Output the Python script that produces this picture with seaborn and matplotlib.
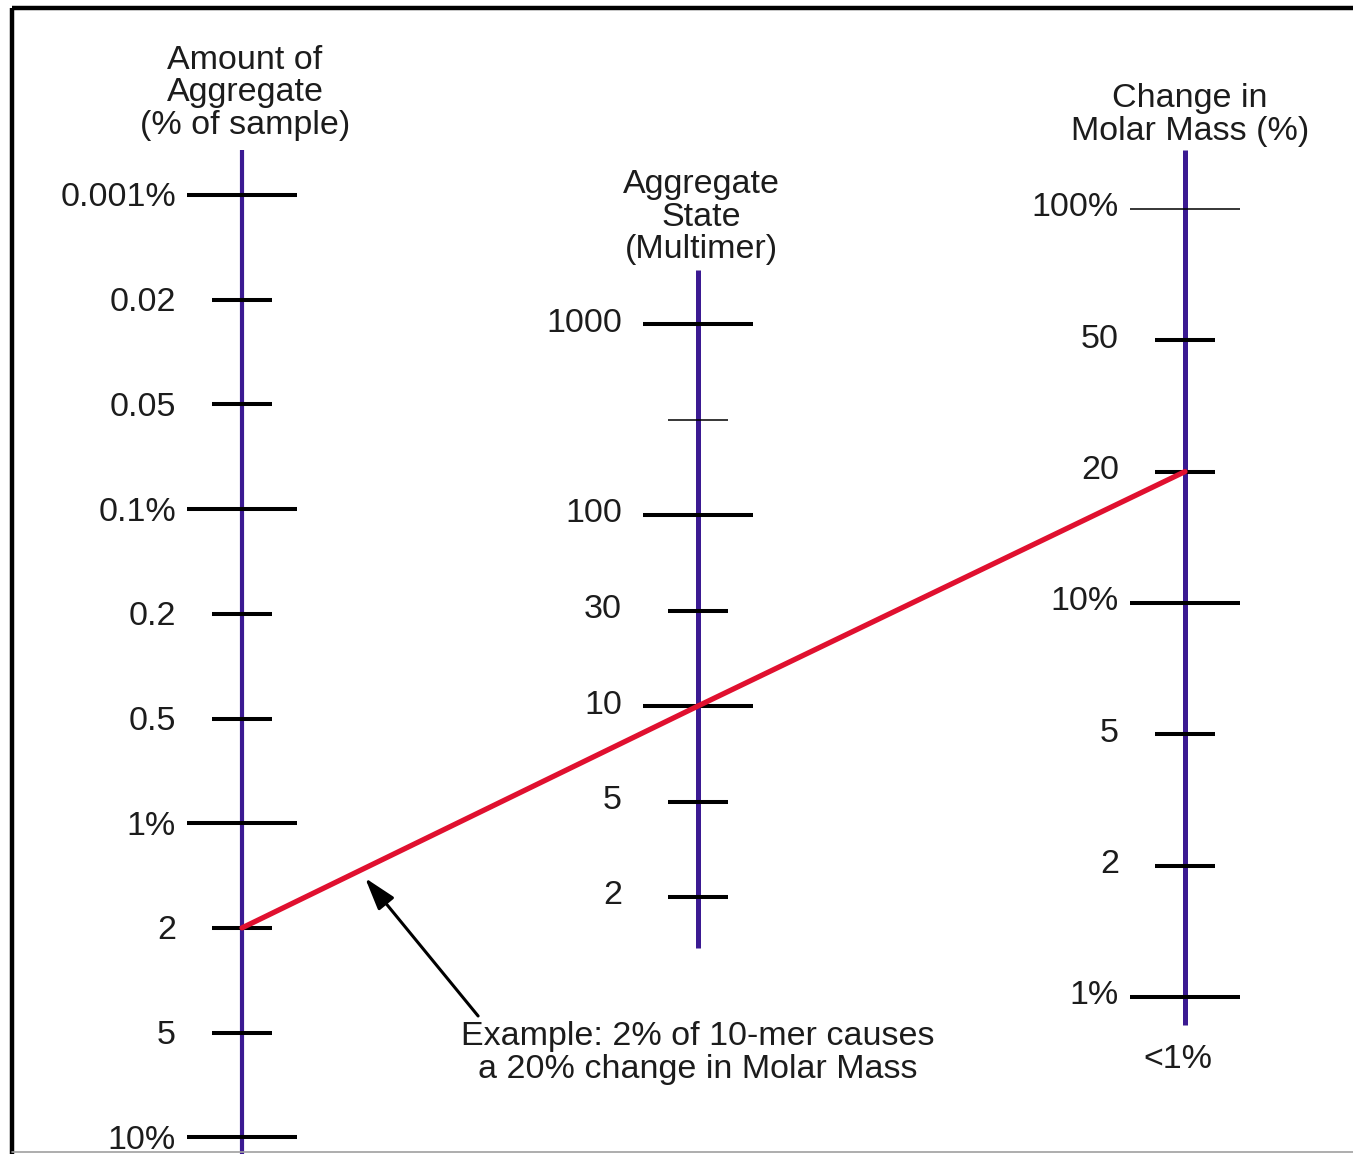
import numpy as np
import pandas as pd
import matplotlib
matplotlib.use("Agg")
import matplotlib.pyplot as plt
import seaborn as sns

# ---- nomogram scales, listed top to bottom ----
amount_values = [0.001, 0.02, 0.05, 0.1, 0.2, 0.5, 1, 2, 5, 10]
amount_labels = ["0.001%", "0.02", "0.05", "0.1%", "0.2", "0.5", "1%", "2", "5", "10%"]

multimer_values = [1000, 300, 100, 30, 10, 5, 2]
multimer_labels = ["1000", "", "100", "30", "10", "5", "2"]

change_values = [100, 50, 20, 10, 5, 2, 1]
change_labels = ["100%", "50", "20", "10%", "5", "2", "1%"]

# worked example read across the three scales
example_amount = 2
example_multimer = 10
example_change = 20
example_text = "Example: 2% of 10-mer causes\na 20% change in Molar Mass"

# ---- styling ----
sns.set_theme(style="white")
plt.rcParams["font.family"] = ["Liberation Sans", "DejaVu Sans"]

AXIS_BLUE = "#3b1a92"
RED = "#e0102f"
INK = "#1c1c1c"
FS = 24.5
LS = 1.06

W, H = 1353, 1154
fig = plt.figure(figsize=(W / 100, H / 100), dpi=100)
ax = fig.add_axes([0, 0, 1, 1])

# layout of each scale on the canvas
scales = [
    dict(values=amount_values, labels=amount_labels,
         title="Amount of\nAggregate\n(% of sample)",
         x=242, y0=195, step=104.7, span=(150, H), title_y=93,
         gap=66, dy=3, thin=[], axis_lw=3.0),
    dict(values=multimer_values, labels=multimer_labels,
         title="Aggregate\nState\n(Multimer)",
         x=698, y0=324, step=95.5, span=(270, 948), title_y=217,
         gap=76, dy=-1, thin=[300], axis_lw=3.6),
    dict(values=change_values, labels=change_labels,
         title="Change in\nMolar Mass (%)",
         x=1185, y0=209, step=131.3, span=(150, 1025), title_y=115,
         gap=66, dy=-1, thin=[100], axis_lw=3.6),
]

LONG, SHORT = 55, 30


def tick_y(scale, value):
    i = scale["values"].index(value)
    return scale["y0"] + i * scale["step"]


for s in scales:
    x = s["x"]
    ax.plot([x, x], list(s["span"]), color=AXIS_BLUE, lw=s["axis_lw"],
            solid_capstyle="butt", zorder=2)
    for v, lab in zip(s["values"], s["labels"]):
        y = tick_y(s, v)
        major = float(np.log10(v)).is_integer()
        half = LONG if major else SHORT
        lw = 1.1 if v in s["thin"] else 2.9
        ax.plot([x - half, x + half], [y, y], color="black", lw=lw,
                solid_capstyle="butt", zorder=3)
        if lab:
            ax.text(x - s["gap"], y + s["dy"], lab, ha="right", va="center",
                    fontsize=FS, color=INK)
    tx = x + 5 if s is scales[-1] else x + 3
    ax.text(tx, s["title_y"], s["title"], ha="center", va="center",
            fontsize=FS, color=INK, linespacing=LS)

# label below the molar-mass scale
ax.text(scales[2]["x"] - 7, 1059, "<1%", ha="center", va="center",
        fontsize=FS, color=INK)

# example line through the three scales
ex = pd.DataFrame({
    "x": [s["x"] for s in scales],
    "y": [tick_y(scales[0], example_amount),
          tick_y(scales[1], example_multimer),
          tick_y(scales[2], example_change)],
})
sns.lineplot(data=ex, x="x", y="y", sort=False, color=RED, lw=3.8,
             ax=ax, zorder=4)

# arrow pointing at the example line
frac = 0.27
tip_x = ex.x[0] + frac * (ex.x[1] - ex.x[0])
tip_y = ex.y[0] + frac * (ex.y[1] - ex.y[0]) + 10
ax.annotate("", xy=(tip_x, tip_y), xytext=(tip_x + 113, tip_y + 138),
            arrowprops=dict(arrowstyle="-|>,head_length=0.9,head_width=0.28",
                            color="black", lw=2.2, mutation_scale=22,
                            shrinkA=0, shrinkB=0), zorder=5)
ax.text(scales[1]["x"], 1053, example_text, ha="center", va="center",
        fontsize=FS, color=INK, linespacing=LS)

# frame
ax.plot([12, W], [8, 8], color="black", lw=3.2, solid_capstyle="butt")
ax.plot([12, 12], [8, H], color="black", lw=3.2, solid_capstyle="butt")
ax.plot([12, W], [H - 2, H - 2], color="#a0a0a0", lw=1.2)

ax.set_xlim(0, W)
ax.set_ylim(H, 0)
ax.set_xlabel("")
ax.set_ylabel("")
ax.axis("off")

fig.savefig("out.png", dpi=100, facecolor="white")
